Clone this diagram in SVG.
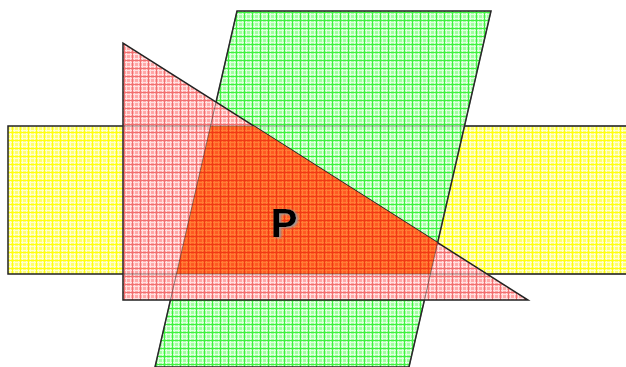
<svg xmlns="http://www.w3.org/2000/svg" width="626" height="367" viewBox="0 0 626 367">
<style>
.edge{stroke:#222;stroke-width:1.5;}
.thin{stroke:#333;stroke-width:1;opacity:0.55;}
.lbl{font-family:"Liberation Sans",Arial,sans-serif;font-weight:bold;font-size:40px;}
</style>
<defs>
<pattern id="py" width="8" height="8" patternUnits="userSpaceOnUse">
<rect width="8" height="8" fill="#ffff70"/>
<rect x="2" width="1" height="8" fill="#ffffd0"/>
<rect x="6" width="1" height="8" fill="#ffffd0"/>
<rect y="2" width="8" height="1" fill="#ffffd0"/>
<rect y="6" width="8" height="1" fill="#ffffd0"/>
<rect x="4" width="1" height="8" fill="#ffff10"/>
<rect y="4" width="8" height="1" fill="#ffff10"/>
</pattern>
<pattern id="pg" width="8" height="8" patternUnits="userSpaceOnUse">
<rect width="8" height="8" fill="#a0ffa0"/>
<rect x="2" width="1" height="8" fill="#e0ffe0"/>
<rect x="6" width="1" height="8" fill="#e0ffe0"/>
<rect y="2" width="8" height="1" fill="#e0ffe0"/>
<rect y="6" width="8" height="1" fill="#e0ffe0"/>
<rect x="4" width="1" height="8" fill="#40f040"/>
<rect y="4" width="8" height="1" fill="#40f040"/>
</pattern>
<pattern id="pr" width="8" height="8" patternUnits="userSpaceOnUse">
<rect width="8" height="8" fill="#ffa8a8"/>
<rect x="2" width="1" height="8" fill="#ffe0e0"/>
<rect x="6" width="1" height="8" fill="#ffe0e0"/>
<rect y="2" width="8" height="1" fill="#ffe0e0"/>
<rect y="6" width="8" height="1" fill="#ffe0e0"/>
<rect x="4" width="1" height="8" fill="#f07070"/>
<rect y="4" width="8" height="1" fill="#f07070"/>
</pattern>
<pattern id="po" width="8" height="8" patternUnits="userSpaceOnUse">
<rect width="8" height="8" fill="#ff5a22"/>
<rect x="2" width="1" height="8" fill="#ff7d36"/>
<rect x="6" width="1" height="8" fill="#ff7d36"/>
<rect y="2" width="8" height="1" fill="#ff7d36"/>
<rect y="6" width="8" height="1" fill="#ff7d36"/>
<rect x="4" width="1" height="8" fill="#f03a14"/>
<rect y="4" width="8" height="1" fill="#f03a14"/>
</pattern>
<filter id="sh" x="-20%" y="-20%" width="140%" height="140%">
<feDropShadow dx="2" dy="1" stdDeviation="0.8" flood-color="#999"/>
</filter>
</defs>
<rect width="626" height="367" fill="#fff"/>
<g id="yellow">
<rect x="8" y="126" width="630" height="148" fill="url(#py)" class="edge"/>
</g>
<g id="green">
<polygon points="237,11 491,11 409,367 155,367" fill="url(#pg)" class="edge"/>
</g>
<g id="red">
<polygon points="123,43 123,300 528,300" fill="url(#pr)" class="edge"/>
</g>
<g id="P">
<polygon points="210.5,126 253.8,126 437.6,242.7 430.4,274 176.4,274" fill="url(#po)"/>
<text x="284" y="237" text-anchor="middle" class="lbl" filter="url(#sh)">P</text>
</g>
<g id="hidden-edges">
<line x1="123" y1="126" x2="626" y2="126" class="thin"/>
<line x1="123" y1="274" x2="626" y2="274" class="thin"/>
<line x1="237" y1="11" x2="155" y2="367" class="thin"/>
<line x1="491" y1="11" x2="409" y2="367" class="thin"/>
</g>
</svg>
